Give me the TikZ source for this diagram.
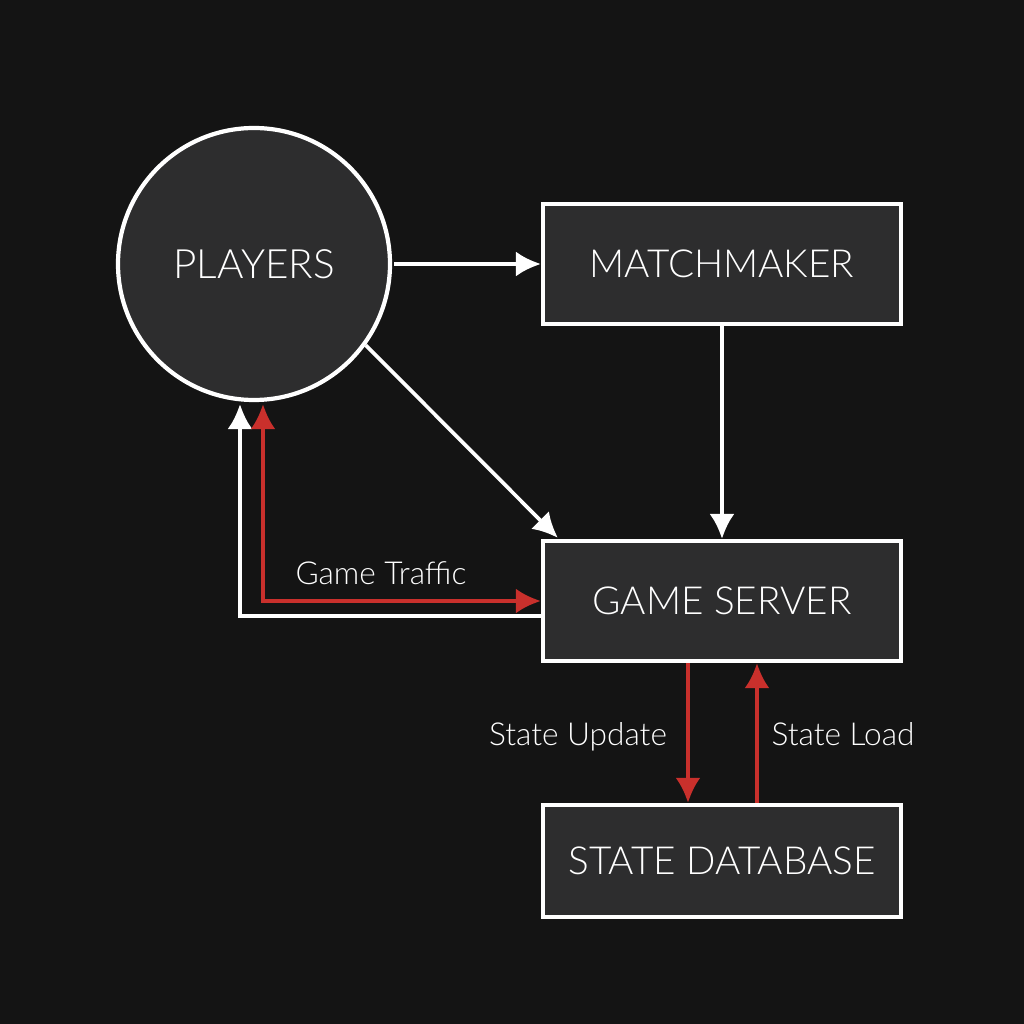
\documentclass[tikz,border=0pt]{standalone}
\usepackage{fontspec}
\setmainfont{Lato Light}
\usetikzlibrary{arrows.meta}
\definecolor{bgdark}{HTML}{141414}
\definecolor{boxdark}{HTML}{2D2D2E}
\definecolor{linkred}{HTML}{C9302C}
\tikzset{
	unit/.style={draw=white,line width=1.2pt,fill=boxdark,text=white,font=\fontsize{11}{11}\selectfont,inner sep=0pt,minimum width=3.58cm},
	link/.style={draw=white,line width=1.05pt,-{Latex[length=0.25cm,width=0.25cm]}},
	redlink/.style={draw=linkred,line width=1.15pt,-{Latex[length=0.25cm,width=0.25cm]}},
	tag/.style={text=white,font=\fontsize{9}{10}\selectfont,inner sep=0pt},
}
\begin{document}
\begin{tikzpicture}
	\useasboundingbox[fill=bgdark] (0,0) rectangle (10.24,10.24);

	%units
	\node[unit,circle,minimum width=2.72cm,font=\fontsize{11.5}{11}\selectfont] (players) at (2.54,7.6) {PLAYERS};
	\node[unit,minimum height=1.2cm] (matchmaker) at (7.22,7.6) {MATCHMAKER};
	\node[unit,minimum height=1.2cm] (server) at (7.22,4.23) {GAME SERVER};
	\node[unit,minimum height=1.12cm] (database) at (7.22,1.63) {STATE DATABASE};

	%white connectors
	\draw[link] ([xshift=0.02cm]players.east)--(matchmaker.west);
	\draw[link] (matchmaker.south)--(server.north);
	\draw[link] (players.-36)--([xshift=0.17cm,yshift=0.01cm]server.north west);
	\draw[link] ([yshift=-0.15cm]server.west)-|([xshift=-0.14cm,yshift=-0.02cm]players.south);

	%red connectors
	\draw[redlink,{Latex[length=0.25cm,width=0.25cm]}-{Latex[length=0.25cm,width=0.25cm]}] ([xshift=0.09cm,yshift=-0.02cm]players.south)|-(server.west);
	\draw[redlink] ([xshift=-0.34cm]server.south)--([xshift=-0.34cm]database.north);
	\draw[redlink] ([xshift=0.35cm]database.north)--([xshift=0.35cm]server.south);

	%labels
	\node[tag,anchor=base] (traffic) at (3.81,4.39) {Game Traffic};
	\node[tag,anchor=base] (update) at (5.78,2.79) {State Update};
	\node[tag,anchor=base] (load) at (8.43,2.79) {State Load};
\end{tikzpicture}
\end{document}
